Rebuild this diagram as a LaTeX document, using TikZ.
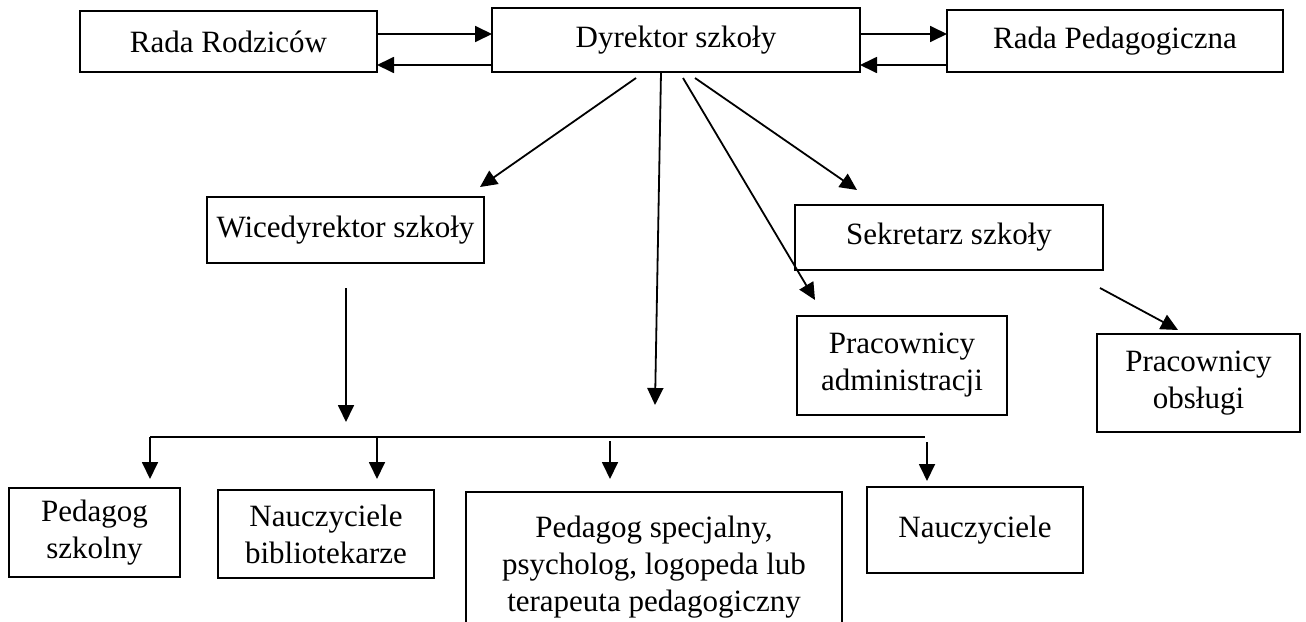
\documentclass[tikz,border=0pt]{standalone}
\usepackage{fontspec}
\setmainfont{Liberation Serif}
\usetikzlibrary{arrows.meta,calc}
\tikzset{
  box/.style={draw, line width=1pt, inner sep=0pt, outer sep=0pt, align=center,
    font=\fontsize{15.5}{18.5}\selectfont},
  arr/.style={line width=0.9pt, -{Triangle[length=8.5pt,width=8pt]}},
  ln/.style={line width=0.9pt}
}
\begin{document}
\begin{tikzpicture}[x=0.5pt,y=-0.5pt]
\useasboundingbox (0,0) rectangle (1306,621);
\clip (0,0) rectangle (1306,621);
% boxes
\node[box, minimum width=148.5pt, minimum height=30.5pt] (rr) at (228.5,41.5) {Rada Rodziców};
\node[box, minimum width=184pt, minimum height=32pt] (dyr) at (676,40) {Dyrektor szkoły};
\node[box, minimum width=168pt, minimum height=31pt] (rp) at (1115,41) {Rada Pedagogiczna};
\node[box, minimum width=138.5pt, minimum height=33pt] (wice) at (345.5,230) {Wicedyrektor szkoły};
\node[box, minimum width=154pt, minimum height=32.5pt] (sek) at (949,237.5) {Sekretarz szkoły};
\node[box, minimum width=105pt, minimum height=49.5pt] (adm) at (902,365.5) {Pracownicy\\administracji};
\node[box, minimum width=101.5pt, minimum height=49pt] (obs) at (1198.5,383) {Pracownicy\\obsługi};
\node[box, minimum width=85.5pt, minimum height=44.5pt] (ped) at (94.5,532.5) {Pedagog\\szkolny};
\node[box, minimum width=108pt, minimum height=44pt] (bib) at (326,534) {Nauczyciele\\bibliotekarze};
\node[box, minimum width=188pt, minimum height=75pt] (spec) at (654,567) {Pedagog specjalny,\\psycholog, logopeda lub\\terapeuta pedagogiczny};
\node[box, minimum width=108pt, minimum height=43pt] (nau) at (975,530) {Nauczyciele};
% top arrows
\draw[arr] ([yshift=3.75pt]rr.east) -- ([yshift=3.75pt]rr.east -| dyr.west);
\draw[arr] ([yshift=-12.5pt]dyr.west) -- ([yshift=-12.5pt]dyr.west -| rr.east);
\draw[arr] ([yshift=3pt]dyr.east) -- ([yshift=3pt]dyr.east -| rp.west);
\draw[arr] ([yshift=-12pt]rp.west) -- ([yshift=-12pt]rp.west -| dyr.east);
% coordinates
\coordinate (d1s) at (636,78);
\coordinate (d1e) at (480,187);
\coordinate (d2s) at (661,72);
\coordinate (d2e) at (655,405);
\coordinate (d3s) at (683,78);
\coordinate (d3e) at (815,300);
\coordinate (d4s) at (695,78);
\coordinate (d4e) at (857,190);
\coordinate (s1s) at (1100,288);
\coordinate (s1e) at (1178,330);
\coordinate (w1s) at (346,288);
\coordinate (w1e) at (346,422);
\coordinate (busL) at (150,437);
\coordinate (busR) at (925,437);
\coordinate (b2) at (377,437);
\coordinate (b3) at (610,441);
\coordinate (b4) at (927,442);
\coordinate (t1) at (150,479);
\coordinate (t2) at (377,479);
\coordinate (t3) at (610,479);
\coordinate (t4) at (927,481);
\draw[arr] (d1s) -- (d1e);
\draw[arr] (d2s) -- (d2e);
\draw[arr] (d3s) -- (d3e);
\draw[arr] (d4s) -- (d4e);
\draw[arr] (s1s) -- (s1e);
\draw[arr] (w1s) -- (w1e);
\draw[ln] (busL) -- (busR);
\draw[arr] (busL) -- (t1);
\draw[arr] (b2) -- (t2);
\draw[arr] (b3) -- (t3);
\draw[arr] (b4) -- (t4);
\end{tikzpicture}
\end{document}
